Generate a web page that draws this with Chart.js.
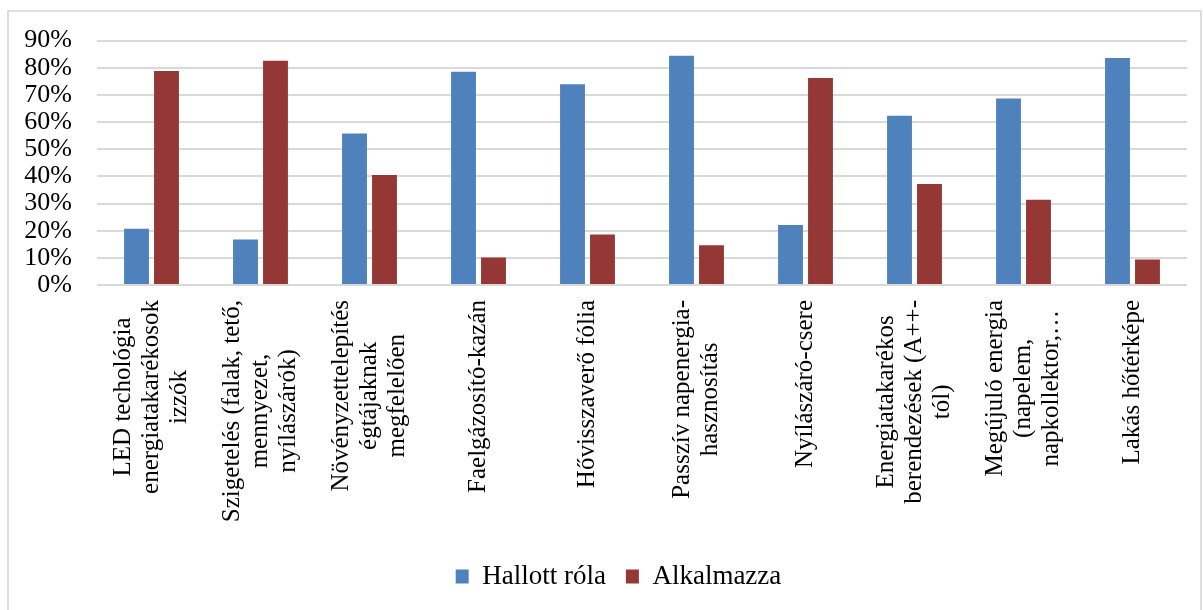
<!DOCTYPE html>
<html>
<head>
<meta charset="utf-8">
<script src="https://cdn.jsdelivr.net/npm/chart.js@4"></script>
<style>
  body { margin: 0; background: #fff; }
  #wrap { position: relative; width: 1203px; height: 610px; overflow: hidden; }
  #frame { position: absolute; left: 7px; top: 10px; width: 1191px; height: 640px; border: 2px solid #dedede; }
  canvas { position: absolute; left: 0; top: 0; }
</style>
</head>
<body>
<div id="wrap">
  <div id="frame"></div>
  <canvas id="barChart" width="1203" height="610"></canvas>
</div>
<script>
        var categories = [
            ["LED techológia", "energiatakarékosok", "izzók"],
            ["Szigetelés (falak, tető,", "mennyezet,", "nyílászárók)"],
            ["Növényzettelepítés", "égtájaknak", "megfelelően"],
            ["Faelgázosító-kazán"],
            ["Hővisszaverő fólia"],
            ["Passzív napenergia-", "hasznosítás"],
            ["Nyílászáró-csere"],
            ["Energiatakarékos", "berendezések (A++-", "tól)"],
            ["Megújuló energia", "(napelem,", "napkollektor,…"],
            ["Lakás hőtérképe"]
        ]
        var seriesNames = ["Hallott róla", "Alkalmazza"]
        var heardOf = [20.7, 16.8, 55.8, 78.5, 73.9, 84.4, 22.1, 62.3, 68.7, 83.6]
        var applies = [78.8, 82.6, 40.5, 10.1, 18.6, 14.6, 76.2, 37.2, 31.4, 9.4]

        var fontFamily = '"Liberation Serif", "Times New Roman", serif'

        // rotated category labels, lines centred like the original
        var xLabels = {
            id: "xLabels",
            afterLayout: function (chart) {
                // let the y labels hang left of the scale box without being clipped
                chart.scales.y.left = 0;
            },
            afterDraw: function (chart) {
                var scale = chart.scales.x;
                var ctx = chart.ctx;
                ctx.save();
                ctx.font = "25px " + fontFamily;
                ctx.fillStyle = "#000";
                ctx.textAlign = "center";
                ctx.textBaseline = "middle";
                categories.forEach(function (lines, i) {
                    var x = scale.getPixelForTick(i);
                    var widest = Math.max.apply(null, lines.map(function (l) { return ctx.measureText(l).width; }));
                    ctx.save();
                    ctx.translate(x, scale.top + 15 + widest / 2);
                    ctx.rotate(-Math.PI / 2);
                    lines.forEach(function (line, j) {
                        ctx.fillText(line, 0, (j - (lines.length - 1) / 2) * 28.3);
                    });
                    ctx.restore();
                });
                ctx.restore();
            }
        };

        var ctx = document.getElementById("barChart").getContext("2d");
        var barChart = new Chart(ctx, {
            type: "bar",
            data: {
                labels: categories,
                datasets: [{
                    label: seriesNames[0],
                    data: heardOf,
                    backgroundColor: "#4f81bd",
                    categoryPercentage: 0.55,
                    barPercentage: 0.83
                }, {
                    label: seriesNames[1],
                    data: applies,
                    backgroundColor: "#953735",
                    categoryPercentage: 0.55,
                    barPercentage: 0.83
                }]
            },
            options: {
                responsive: false,
                animation: false,
                layout: {
                    padding: { left: 50, right: 16, top: 38, bottom: 10 }
                },
                scales: {
                    x: {
                        grid: { display: false },
                        border: { display: false },
                        ticks: { display: false },
                        afterFit: function (scale) { scale.height = 258; }
                    },
                    y: {
                        min: 0,
                        max: 90,
                        border: { display: false },
                        grid: { color: "#d9d9d9", lineWidth: 2, drawTicks: false },
                        ticks: {
                            stepSize: 10,
                            autoSkip: false,
                            padding: 25,
                            color: "#000",
                            font: { family: fontFamily, size: 26 },
                            callback: function (v) { return v + "%"; }
                        },
                        afterFit: function (scale) { scale.width = 47; }
                    }
                },
                plugins: {
                    legend: {
                        position: "bottom",
                        labels: {
                            boxWidth: 13,
                            boxHeight: 14,
                            padding: 20,
                            color: "#000",
                            font: { family: fontFamily, size: 27 }
                        }
                    },
                    tooltip: { enabled: false }
                }
            },
            plugins: [xLabels]
        });
</script>
</body>
</html>
